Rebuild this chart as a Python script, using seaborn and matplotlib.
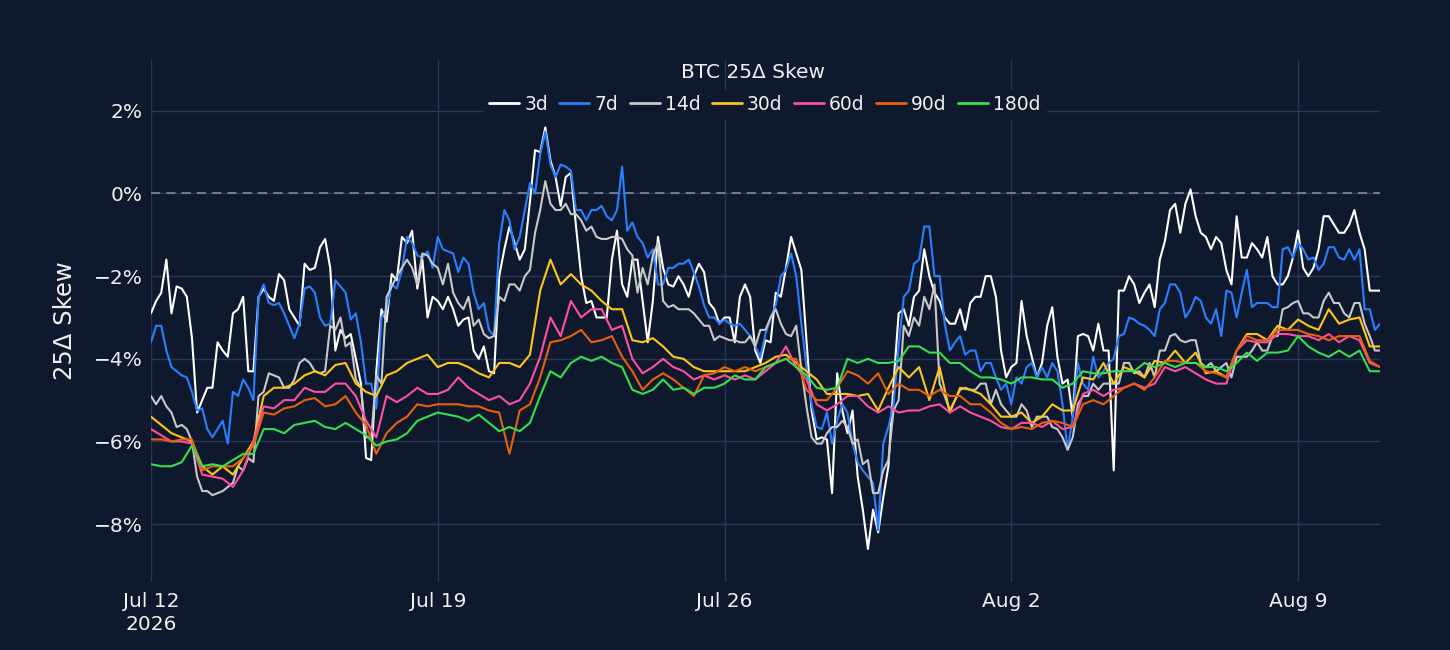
import numpy as np
import pandas as pd
import matplotlib
matplotlib.use("Agg")
import matplotlib.pyplot as plt
import seaborn as sns

# readings every 6h, Jul 12 00:00 -> Aug 11 00:00 (121 points), values in %
skew_3d = [
    -2.9, -2.4, -2.9, -2.3, -3.5, -5.0, -4.7, -3.8, -2.9, -2.5, -4.3, -2.3, -2.6, -2.1, -3.0, -1.7,
    -1.8, -1.1, -3.8, -3.5, -4.0, -6.4, -4.3, -3.1, -2.1,
    -1.2, -2.3, -3.0, -2.6, -2.5, -3.2, -3.0, -4.0, -4.3, -2.0, -0.8, -1.6, -0.2, 1.0, 0.8, -0.3,
    0.5, -2.0, -2.6, -3.0, -1.6, -2.2, -1.6, -2.6,
    -2.6, -1.8, -2.25, -2.2, -2.0, -1.9, -2.8, -3.0, -3.6, -2.2, -3.8, -3.55, -2.4, -1.8, -1.45,
    -3.55, -5.95, -5.95, -4.35, -5.8, -6.85, -8.6, -8.2, -6.6,
    -2.9, -3.2, -2.35, -2.0, -2.6, -3.15, -2.8, -2.65, -2.5, -2.0, -3.8, -4.2, -2.6, -3.95, -4.1,
    -2.75, -4.6, -5.4, -3.4, -3.8, -3.8, -6.7, -2.35, -2.2,
    -2.4, -2.75, -1.15, -0.25, -0.25, -0.55, -1.05, -1.05, -1.85, -0.55, -1.55, -1.35, -1.05,
    -2.2, -2.0, -0.9, -2.0, -1.35, -0.55, -0.95, -0.75, -0.95, -2.35, -2.35,
]
# readings halfway between the 6h points (3h offset) for the noisy short tenors
skew_3d_mid = [
    -2.6, -1.6, -2.25, -2.5, -5.3, -4.7, -3.6, -3.95, -2.8, -4.3, -2.5, -2.5, -1.95, -2.8, -3.2,
    -1.85, -1.3, -1.8, -3.3, -3.4, -4.6, -6.45, -2.8, -1.95, -1.05, -0.9, -1.6, -2.5, -2.8, -2.8,
    -3.05, -3.8, -3.7, -4.35, -1.35, -1.2, -1.35, 1.05, 1.6, 0.4,
    0.4, -0.8, -2.65, -3.0, -3.0, -0.9, -2.5, -1.6, -3.6, -1.05, -2.2, -2.0, -2.5, -1.7, -2.65,
    -3.15, -3.0, -2.5, -2.5, -4.1, -3.6, -2.5, -1.05, -1.85, -5.25, -5.9, -7.25, -5.25, -5.25,
    -7.65, -7.65, -7.35, -4.6, -2.8, -2.5, -1.35, -2.4, -3.0, -3.15, -3.3,
    -2.5, -2.0, -2.5, -4.45, -4.1, -3.45, -4.45, -3.2, -3.95, -4.5, -3.45, -3.45, -3.15, -3.8,
    -2.35, -2.0, -2.65, -2.2, -1.6, -0.4, -0.95, 0.1, -0.95, -1.35, -1.2, -2.2, -1.55, -1.2,
    -1.55, -2.0, -2.2, -1.55, -1.8, -1.8, -0.55, -0.75, -0.95, -0.4, -1.35, -2.35,
]
skew_7d = [
    -3.6, -3.2, -4.2, -4.4, -4.8, -5.2, -5.9, -5.5, -4.8, -4.5, -5.0, -2.2, -2.7, -2.9, -3.5, -2.3,
    -2.4, -3.2, -2.1, -2.4, -2.9, -4.6, -5.2, -2.8, -2.3,
    -1.05, -1.5, -1.4, -1.05, -1.4, -1.9, -1.7, -2.8, -3.3, -1.2, -0.65, -1.05, 0.25, 0.95, 0.7,
    0.7, 0.55, -0.4, -0.4, -0.3, -0.65, 0.65, -0.7, -1.2,
    -1.35, -2.2, -1.8, -1.7, -1.9, -2.7, -3.0, -3.05, -3.2, -3.3, -3.7, -3.4, -2.7, -1.85, -2.0,
    -4.2, -5.65, -5.3, -5.5, -5.3, -6.5, -6.85, -8.15, -5.65,
    -3.7, -2.35, -1.6, -0.8, -2.0, -3.8, -3.45, -3.8, -4.3, -4.1, -4.75, -5.1, -4.6, -4.1, -4.2,
    -4.1, -5.1, -5.4, -4.6, -3.95, -4.3, -4.0, -3.4, -3.05,
    -3.2, -3.45, -2.65, -2.2, -3.0, -2.5, -3.0, -2.8, -2.35, -3.0, -1.85, -2.65, -2.65, -2.75,
    -1.3, -1.2, -1.6, -1.85, -1.3, -1.55, -1.35, -1.35, -2.8, -3.15,
]
skew_7d_mid = [
    -3.2, -3.8, -4.3, -4.45, -5.25, -5.7, -5.7, -6.05, -4.9, -4.7, -2.5, -2.65, -2.65, -3.2,
    -3.15, -2.25, -3.0, -3.15, -2.25, -3.05, -3.6, -4.6, -3.0, -2.2, -1.85, -1.2, -1.55, -1.8,
    -1.35, -1.45, -1.55, -2.4, -2.65, -3.45, -0.4, -1.35, -0.4, 0.0, 1.5, 0.4,
    0.65, -0.4, -0.65, -0.4, -0.55, -0.4, -0.9, -1.05, -1.55, -2.2, -1.8, -1.7, -1.6, -2.25,
    -3.0, -3.15, -3.15, -3.15, -3.45, -3.95, -3.0, -2.0, -1.45, -3.15, -5.1, -5.7, -6.05, -5.1,
    -6.05, -6.7, -7.0, -6.05, -5.1, -2.5, -1.7, -0.8, -2.0, -3.15, -3.6, -3.9,
    -3.8, -4.1, -4.45, -4.6, -4.45, -4.2, -4.45, -4.45, -4.3, -6.2, -4.1, -4.75, -4.45, -4.1,
    -3.45, -3.0, -3.15, -3.3, -2.8, -2.2, -2.4, -2.8, -2.6, -3.15, -3.45, -2.4, -2.4, -2.75,
    -2.65, -2.75, -1.35, -1.55, -1.35, -1.55, -1.7, -1.3, -1.6, -1.6, -2.8, -3.3,
]
skew_14d = [
    -4.9, -4.9, -5.3, -5.6, -6.0, -7.2, -7.3, -7.2, -7.0, -6.7, -6.5, -4.8, -4.4, -4.7, -4.5, -4.0,
    -4.3, -4.3, -3.3, -3.7, -4.5, -5.9, -4.4, -2.5, -2.0,
    -1.6, -2.2, -1.5, -1.8, -1.7, -2.65, -2.5, -3.05, -3.5, -2.5, -2.2, -2.35, -1.85, -0.4, -0.25,
    -0.4, -0.5, -0.65, -0.8, -1.1, -1.05, -1.1, -1.5, -1.8,
    -1.5, -2.6, -2.7, -2.8, -2.9, -3.2, -3.55, -3.5, -3.55, -3.6, -3.7, -3.3, -2.8, -3.4, -3.2,
    -5.15, -6.05, -5.8, -5.65, -5.65, -5.95, -6.45, -7.25, -6.45,
    -5.0, -3.45, -3.2, -2.8, -4.6, -5.25, -4.75, -4.75, -4.6, -5.1, -5.1, -5.4, -5.1, -5.65, -5.4,
    -5.65, -5.9, -5.9, -4.9, -4.6, -4.6, -4.6, -4.1, -4.35,
    -4.45, -4.45, -3.8, -3.4, -3.6, -3.55, -4.2, -4.3, -4.1, -3.95, -3.95, -3.6, -3.8, -3.45,
    -2.75, -2.6, -2.9, -3.0, -2.4, -2.65, -3.0, -2.65, -3.45, -3.8,
]
skew_14d_mid = [
    -5.1, -5.15, -5.65, -5.7, -6.85, -7.2, -7.25, -7.1, -6.6, -6.4, -4.9, -4.35, -4.45, -4.7,
    -4.1, -4.1, -4.35, -3.2, -3.0, -3.6, -4.7, -5.9, -4.6, -2.25, -1.8, -1.8, -1.45, -1.7, -2.2,
    -2.4, -2.8, -3.2, -3.4, -3.45, -2.6, -2.2, -2.0, -0.95, 0.3, -0.4,
    -0.25, -0.5, -0.9, -1.05, -1.1, -1.05, -1.35, -2.4, -2.2, -1.2, -2.75, -2.8, -2.8, -3.05,
    -3.2, -3.45, -3.55, -3.6, -3.45, -3.3, -3.0, -3.15, -3.45, -4.25, -5.9, -6.05, -5.65, -5.5,
    -6.05, -6.55, -7.25, -6.7, -5.25, -3.2, -3.0, -2.5, -2.2, -4.9, -5.0, -4.7,
    -4.75, -4.6, -4.75, -5.25, -5.4, -5.25, -5.4, -5.4, -5.7, -6.2, -5.1, -4.9, -4.75, -4.6,
    -4.6, -4.1, -4.3, -4.1, -3.8, -3.45, -3.55, -3.55, -4.1, -4.1, -4.2, -4.45, -3.95, -3.8,
    -3.8, -3.45, -2.8, -2.65, -2.9, -3.0, -2.6, -2.65, -2.9, -2.65, -3.15, -3.8,
]
skew_30d = [
    -5.4, -5.6, -5.8, -5.9, -6.0, -6.6, -6.8, -6.6, -6.8, -6.4, -6.0, -4.9, -4.7, -4.7, -4.6, -4.4,
    -4.3, -4.4, -4.15, -4.1, -4.6, -4.8, -4.9, -4.4, -4.3,
    -4.1, -4.0, -3.9, -4.2, -4.1, -4.1, -4.2, -4.35, -4.45, -4.1, -4.1, -4.2, -3.9, -2.35, -1.6,
    -2.2, -1.95, -2.2, -2.35, -2.6, -2.8, -2.8, -3.55, -3.6,
    -3.5, -3.7, -3.95, -4.0, -4.2, -4.3, -4.3, -4.3, -4.3, -4.3, -4.2, -4.1, -3.95, -3.9, -4.1,
    -4.3, -4.5, -4.85, -4.85, -4.85, -4.9, -4.85, -5.25, -4.7,
    -4.2, -4.45, -4.2, -5.0, -4.2, -5.3, -4.7, -4.75, -4.85, -5.1, -5.4, -5.4, -5.3, -5.55, -5.4,
    -5.1, -5.25, -5.25, -4.45, -4.5, -4.1, -4.6, -4.2, -4.3,
    -4.45, -4.05, -4.1, -3.8, -4.1, -3.85, -4.35, -4.3, -4.45, -3.8, -3.4, -3.4, -3.55, -3.2,
    -3.3, -3.05, -3.2, -3.3, -2.8, -3.15, -3.05, -3.0, -3.7, -3.7,
]
skew_60d = [
    -5.7, -5.85, -6.0, -6.0, -6.05, -6.8, -6.85, -6.9, -7.1, -6.7, -6.0, -5.15, -5.2, -5.0, -5.0,
    -4.7, -4.8, -4.8, -4.6, -4.6, -4.9, -5.5, -5.9, -4.9, -5.05,
    -4.9, -4.7, -4.85, -4.85, -4.75, -4.45, -4.7, -4.85, -5.0, -4.9, -5.1, -5.0, -4.6, -3.95, -3.0,
    -3.45, -2.6, -3.0, -2.8, -2.8, -3.3, -3.2, -4.0, -4.35,
    -4.2, -4.0, -4.2, -4.3, -4.5, -4.4, -4.5, -4.4, -4.5, -4.4, -4.5, -4.3, -4.1, -3.7, -4.2,
    -4.5, -5.1, -5.25, -5.1, -4.9, -4.9, -5.15, -5.3, -5.15,
    -5.3, -5.25, -5.25, -5.15, -5.1, -5.3, -5.15, -5.3, -5.4, -5.5, -5.65, -5.7, -5.55, -5.55,
    -5.65, -5.5, -5.7, -5.65, -4.85, -4.75, -4.9, -4.75, -4.7, -4.6,
    -4.7, -4.6, -4.2, -4.3, -4.2, -4.35, -4.5, -4.6, -4.6, -3.8, -3.55, -3.6, -3.6, -3.4, -3.4,
    -3.45, -3.45, -3.55, -3.4, -3.6, -3.45, -3.55, -4.1, -4.2,
]
skew_90d = [
    -5.95, -5.95, -6.0, -5.95, -5.95, -6.7, -6.6, -6.6, -6.6, -6.4, -6.1, -5.3, -5.35, -5.2, -5.15,
    -5.0, -4.95, -5.15, -5.1, -4.9, -5.3, -5.6, -6.3, -5.8, -5.55,
    -5.4, -5.1, -5.15, -5.1, -5.1, -5.1, -5.15, -5.15, -5.25, -5.3, -6.3, -5.25, -5.1, -4.45,
    -3.6, -3.55, -3.45, -3.3, -3.6, -3.55, -3.45, -3.95, -4.3, -4.75,
    -4.5, -4.35, -4.5, -4.7, -4.9, -4.4, -4.35, -4.2, -4.3, -4.2, -4.3, -4.2, -4.1, -4.0, -4.0,
    -4.75, -5.0, -5.0, -4.7, -4.3, -4.4, -4.6, -4.35, -4.85,
    -4.6, -4.75, -4.75, -4.9, -4.75, -4.9, -4.9, -5.1, -5.1, -5.3, -5.55, -5.7, -5.65, -5.7,
    -5.55, -5.5, -5.55, -5.65, -5.1, -5.0, -5.1, -4.9, -4.7, -4.6,
    -4.75, -4.45, -4.05, -4.05, -4.1, -4.1, -4.3, -4.35, -4.45, -3.8, -3.45, -3.55, -3.55, -3.3,
    -3.3, -3.3, -3.4, -3.45, -3.55, -3.45, -3.45, -3.45, -4.05, -4.2,
]
skew_180d = [
    -6.55, -6.6, -6.6, -6.5, -6.1, -6.6, -6.55, -6.6, -6.45, -6.3, -6.3, -5.7, -5.7, -5.8, -5.6,
    -5.55, -5.5, -5.65, -5.7, -5.55, -5.7, -5.85, -6.1, -6.0, -5.95,
    -5.8, -5.5, -5.4, -5.3, -5.35, -5.4, -5.5, -5.35, -5.55, -5.75, -5.65, -5.75, -5.55, -4.9,
    -4.3, -4.45, -4.1, -3.95, -4.05, -3.95, -4.1, -4.2, -4.75, -4.85,
    -4.75, -4.5, -4.75, -4.7, -4.85, -4.7, -4.7, -4.6, -4.4, -4.5, -4.5, -4.2, -4.1, -4.0, -4.2,
    -4.4, -4.7, -4.75, -4.7, -4.0, -4.1, -4.0, -4.1, -4.1,
    -4.05, -3.7, -3.7, -3.85, -3.85, -4.1, -4.1, -4.3, -4.45, -4.45, -4.5, -4.6, -4.45, -4.45,
    -4.5, -4.5, -4.7, -4.6, -4.3, -4.35, -4.35, -4.3, -4.3, -4.3,
    -4.1, -4.2, -4.1, -4.2, -4.1, -4.1, -4.2, -4.2, -4.3, -4.1, -3.85, -4.05, -3.85, -3.85, -3.8,
    -3.45, -3.7, -3.85, -3.95, -3.8, -3.95, -3.8, -4.3, -4.3,
]

tenors = ["3d", "7d", "14d", "30d", "60d", "90d", "180d"]
colors = ["#ffffff", "#2b7fff", "#c8c8c8", "#ffc61a", "#ff4fa3", "#e8600c", "#35e04f"]

tick_dates = ["2026-07-12", "2026-07-19", "2026-07-26", "2026-08-02", "2026-08-09"]
tick_labels = ["Jul 12\n2026", "Jul 19", "Jul 26", "Aug 2", "Aug 9"]
y_ticks = [2, 0, -2, -4, -6, -8]


def merge(main, mid):
    # put the 3h-offset readings between the 6h ones
    out = []
    for a, b in zip(main, mid):
        out += [a, b]
    out.append(main[-1])
    return out


t6 = pd.date_range("2026-07-12", periods=len(skew_30d), freq="6h")
t3 = pd.date_range("2026-07-12", periods=2 * len(skew_30d) - 1, freq="3h")

series = [
    (t3, merge(skew_3d, skew_3d_mid)),
    (t3, merge(skew_7d, skew_7d_mid)),
    (t3, merge(skew_14d, skew_14d_mid)),
    (t6, skew_30d),
    (t6, skew_60d),
    (t6, skew_90d),
    (t6, skew_180d),
]

bg = "#0f192d"
grid_c = "#26375a"
txt_c = "#f0f0f0"

sns.set_style("darkgrid", {"axes.facecolor": bg, "figure.facecolor": bg,
                           "grid.color": grid_c, "axes.edgecolor": bg})
plt.rcParams["font.family"] = ["DejaVu Sans"]

fig = plt.figure(figsize=(14.5, 6.5), dpi=100)
ax = fig.add_axes([151 / 1450, 1 - 582 / 650, (1380 - 151) / 1450, (582 - 60) / 650])

ax.axhline(0, color="#8a93a5", lw=1.1, ls=(0, (6, 4)), zorder=1)

for name, (tt, vals), c in zip(tenors, series, colors):
    sns.lineplot(x=tt, y=vals, ax=ax, color=c, lw=1.5, label=name, zorder=3)

ax.set_xlim(pd.Timestamp("2026-07-12"), pd.Timestamp("2026-08-11"))
ax.set_ylim(-9.4, 3.23)
ax.set_xticks(pd.to_datetime(tick_dates))
ax.set_xticklabels(tick_labels, linespacing=1.3)
ax.set_yticks(y_ticks)
ax.set_yticklabels([f"{v}%".replace("-", "\u2212") for v in y_ticks])
ax.tick_params(axis="both", colors=txt_c, labelsize=14.5, length=0)
ax.tick_params(axis="x", pad=7)
ax.tick_params(axis="y", pad=6)
ax.grid(True, color=grid_c, lw=1)
for s in ax.spines.values():
    s.set_visible(False)

ax.set_xlabel("")
ax.set_ylabel("25\u0394 Skew", color=txt_c, fontsize=17.5, labelpad=12)

leg = ax.legend(loc="center", bbox_to_anchor=((765 - 151) / 1229, (582 - 104) / 522),
                ncol=7, frameon=True, fontsize=13.5, handlelength=1.6, handletextpad=0.28,
                columnspacing=0.6, borderpad=0.25, facecolor=bg, edgecolor=bg, framealpha=1)
for t in leg.get_texts():
    t.set_color(txt_c)
for h in leg.get_lines():
    h.set_linewidth(2)

fig.text(753 / 1450, 1 - 72 / 650, "BTC 25\u0394 Skew", color=txt_c, fontsize=14.5,
         ha="center", va="center")

fig.savefig("out.png", dpi=100, facecolor=bg)
